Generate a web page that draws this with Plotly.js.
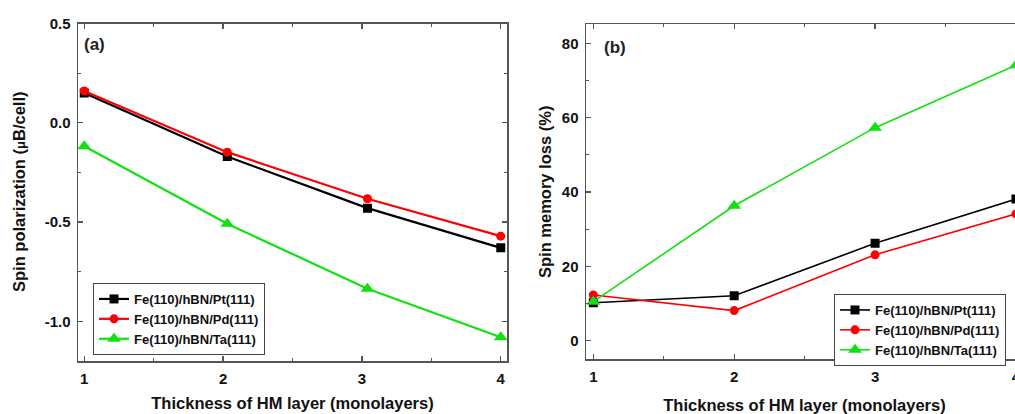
<!DOCTYPE html>
<html>
<head>
<meta charset="utf-8">
<script src="https://cdn.plot.ly/plotly-3.0.1.min.js"></script>
<style>
html, body { margin:0; padding:0; overflow:hidden; background:#fff; }
#chart { width:1040px; height:414px; }
</style>
</head>
<body>
<div id="chart"></div>
<script>
// Panel (a): spin polarization
const thicknessA = [1, 2.03, 3.04, 4.0];
const polPt = [0.15, -0.17, -0.43, -0.63];
const polPd = [0.16, -0.148, -0.383, -0.571];
const polTa = [-0.118, -0.509, -0.836, -1.08];

// Panel (b): spin memory loss (%)
const thicknessB = [1, 2, 3, 4];
const smlPt = [10.2, 12.1, 26.2, 38.1];
const smlPd = [12.3, 8.1, 23.1, 34.1];
const smlTa = [10.5, 36.3, 57.3, 74.1];

const seriesNames = ['Fe(110)/hBN/Pt(111)', 'Fe(110)/hBN/Pd(111)', 'Fe(110)/hBN/Ta(111)'];
const colors = ['#000000', '#ff0000', '#11e011'];
const symbols = ['square', 'circle', 'triangle-up'];

const font = 'Liberation Sans, Arial, sans-serif';

function mk(x, y, i, xa, ya, leg, lw, ms) {
  return {
    x: x, y: y, name: seriesNames[i], type: 'scatter', mode: 'lines+markers',
    xaxis: xa, yaxis: ya, legend: leg,
    line: {color: colors[i], width: lw},
    marker: {color: colors[i], symbol: symbols[i], size: i === 2 ? ms + 2 : ms}
  };
}

const traces = [
  mk(thicknessA, polPt, 0, 'x', 'y', 'legend', 2.2, 9),
  mk(thicknessA, polPd, 1, 'x', 'y', 'legend', 2.2, 9),
  mk(thicknessA, polTa, 2, 'x', 'y', 'legend', 2.2, 10),
  mk(thicknessB, smlPt, 0, 'x2', 'y2', 'legend2', 1.6, 9),
  mk(thicknessB, smlPd, 1, 'x2', 'y2', 'legend2', 1.6, 9),
  mk(thicknessB, smlTa, 2, 'x2', 'y2', 'legend2', 1.6, 10)
];

const W = 1040, H = 414;
function axBase() {
  return {
    showgrid: false, zeroline: false, showline: true, linecolor: '#555', linewidth: 1.5,
    mirror: 'allticks', ticks: 'inside', ticklen: 5, tickwidth: 1.2, tickcolor: '#555',
    ticklabelstandoff: 3,
    tickfont: {family: font, size: 15, color: '#111', weight: 'bold'}
  };
}
const titleFont = {family: font, size: 16.5, color: '#111', weight: 'bold'};
const legendBase = {
  bgcolor: 'rgba(255,255,255,1)', bordercolor: '#444', borderwidth: 1,
  font: {family: font, size: 13, color: '#111', weight: 'bold'},
  xanchor: 'left', yanchor: 'top', tracegroupgap: 0, itemwidth: 30
};

const layout = {
  width: W, height: H,
  margin: {l: 0, r: 0, t: 0, b: 0},
  paper_bgcolor: '#fff', plot_bgcolor: '#fff',
  showlegend: true,
  xaxis: Object.assign(axBase(), {
    domain: [78 / W, 507 / W], range: [0.955, 4.045],
    tickvals: [1, 2, 3, 4], ticktext: ['1', '2', '3', '4'],
    minor: {ticks: 'inside', ticklen: 3, tickwidth: 1, tickcolor: '#555', dtick: 0.5, tick0: 1},
    title: {text: 'Thickness of HM layer (monolayers)', font: titleFont, standoff: 12},
    anchor: 'y'
  }),
  yaxis: Object.assign(axBase(), {
    domain: [1 - 361 / H, 1 - 23.5 / H], range: [-1.2, 0.5],
    tickvals: [-1.0, -0.5, 0.0, 0.5], ticktext: ['-1.0', '-0.5', '0.0', '0.5'],
    minor: {ticks: 'inside', ticklen: 3, tickwidth: 1, tickcolor: '#555', dtick: 0.25, tick0: 0},
    anchor: 'x'
  }),
  xaxis2: Object.assign(axBase(), {
    domain: [586 / W, 1023 / W], range: [0.948, 4.05],
    tickvals: [1, 2, 3, 4], ticktext: ['1', '2', '3', '4'],
    minor: {ticks: 'inside', ticklen: 3, tickwidth: 1, tickcolor: '#555', dtick: 0.5, tick0: 1},
    title: {text: 'Thickness of HM layer (monolayers)', font: titleFont, standoff: 16},
    anchor: 'y2'
  }),
  yaxis2: Object.assign(axBase(), {
    domain: [1 - 359.3 / H, 1 - 24.3 / H], range: [-5, 85.1],
    tickvals: [0, 20, 40, 60, 80],
    minor: {ticks: 'inside', ticklen: 3, tickwidth: 1, tickcolor: '#555', dtick: 10, tick0: 0},
    anchor: 'x2'
  }),
  legend: Object.assign({}, legendBase, {x: 93 / W, y: 1 - 283 / H}),
  legend2: Object.assign({}, legendBase, {x: 834 / W, y: 1 - 294 / H}),
  annotations: [
    {text: 'Spin polarization (<span style="font-size:13px">μ</span>B/cell)', textangle: -90,
     xref: 'paper', yref: 'paper', x: 19 / W, y: 1 - 192 / H, xanchor: 'center', yanchor: 'middle',
     showarrow: false, font: titleFont},
    {text: 'Spin memory loss (%)', textangle: -90,
     xref: 'paper', yref: 'paper', x: 545 / W, y: 1 - 192 / H, xanchor: 'center', yanchor: 'middle',
     showarrow: false, font: titleFont},
    {text: '(a)', xref: 'paper', yref: 'paper', x: 82 / W, y: 1 - 44.5 / H, xanchor: 'left', yanchor: 'middle',
     showarrow: false, font: {family: font, size: 17, color: '#222', weight: 'bold'}},
    {text: '(b)', xref: 'paper', yref: 'paper', x: 602 / W, y: 1 - 47.5 / H, xanchor: 'left', yanchor: 'middle',
     showarrow: false, font: {family: font, size: 17, color: '#222', weight: 'bold'}}
  ]
};

Plotly.newPlot('chart', traces, layout, {displayModeBar: false, staticPlot: true});
</script>
</body>
</html>
